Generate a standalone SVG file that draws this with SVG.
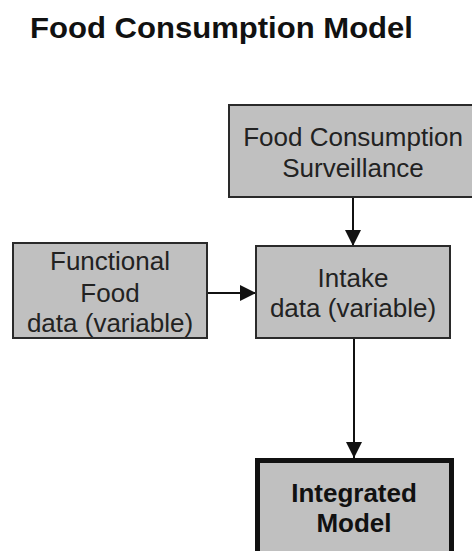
<svg xmlns="http://www.w3.org/2000/svg" width="472" height="551" viewBox="0 0 472 551">
<style>
.box{fill:#c0c0c0;stroke:#2a2a2a;stroke-width:2}
.thick{fill:#c0c0c0;stroke:#111;stroke-width:5}
.t{font-family:"Liberation Sans",Arial,sans-serif;font-size:26px;fill:#222;text-anchor:middle}
.tb{font-family:"Liberation Sans",Arial,sans-serif;font-size:26px;font-weight:bold;fill:#111;text-anchor:middle}
.title{font-family:"Liberation Sans",Arial,sans-serif;font-size:30px;font-weight:bold;fill:#111}
.c{stroke:#111;stroke-width:2;fill:none}
</style>
<defs>
<marker id="ah" markerWidth="16" markerHeight="16" refX="16" refY="8" orient="auto" markerUnits="userSpaceOnUse">
<path d="M0,0 L16,8 L0,16 Z" fill="#111"/>
</marker>
</defs>
<rect width="472" height="551" fill="#fff"/>
<text class="title" x="30" y="38" textLength="383" lengthAdjust="spacingAndGlyphs">Food Consumption Model</text>
<g id="connectors">
<line class="c" x1="353" y1="197" x2="353" y2="246" marker-end="url(#ah)"/>
<line class="c" x1="207" y1="293" x2="256" y2="293" marker-end="url(#ah)"/>
<line class="c" x1="354" y1="338" x2="354" y2="458" marker-end="url(#ah)"/>
</g>
<g id="surveillance">
<rect class="box" x="229" y="105" width="250" height="92"/>
<text class="t" x="353" y="146">Food Consumption</text>
<text class="t" x="353" y="177">Surveillance</text>
</g>
<g id="functional">
<rect class="box" x="13" y="243" width="194" height="95"/>
<text class="t" x="110" y="270">Functional</text>
<text class="t" x="110" y="302">Food</text>
<text class="t" x="110" y="332">data (variable)</text>
</g>
<g id="intake">
<rect class="box" x="256" y="246" width="194" height="92"/>
<text class="t" x="353" y="287">Intake</text>
<text class="t" x="353" y="317">data (variable)</text>
</g>
<g id="integrated">
<rect class="thick" x="257.5" y="460.5" width="194" height="110"/>
<text class="tb" x="354" y="502">Integrated</text>
<text class="tb" x="354" y="532">Model</text>
</g>
</svg>
